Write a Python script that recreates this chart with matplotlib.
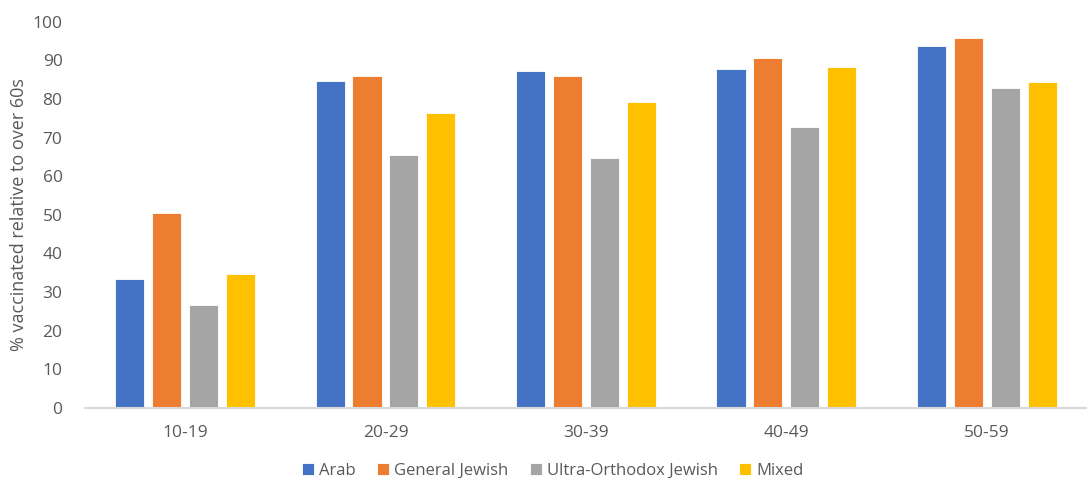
import numpy as np
import matplotlib.pyplot as plt

plt.rcParams['font.family'] = ['Open Sans', 'DejaVu Sans']

# share vaccinated in each age band, relative to the over-60s
age_groups = ["10-19", "20-29", "30-39", "40-49", "50-59"]
arab = [33.4, 84.5, 87.2, 87.6, 93.6]
general_jewish = [50.6, 86.0, 85.8, 90.5, 95.8]
ultra_orthodox = [26.7, 65.4, 64.8, 72.6, 82.7]
mixed = [34.7, 76.4, 79.3, 88.3, 84.3]

series = [
    ("Arab", arab, "#4472C4"),
    ("General Jewish", general_jewish, "#ED7D31"),
    ("Ultra-Orthodox Jewish", ultra_orthodox, "#A5A5A5"),
    ("Mixed", mixed, "#FFC000"),
]

text_color = "#595959"

fig = plt.figure(figsize=(10.87, 4.79), dpi=100)
ax = fig.add_axes([0.078, 0.148, 0.922, 0.807])

x = np.arange(len(age_groups))
pitch = 0.184
width = 0.145
for i, (name, vals, color) in enumerate(series):
    offset = (i - 1.5) * pitch
    ax.bar(x + offset, vals, width, color=color, label=name,
           edgecolor="white", linewidth=0.6)

ax.set_xlim(-0.5, len(age_groups) - 0.5)
ax.set_ylim(0, 100)
ax.set_yticks(range(0, 101, 10))
ax.set_xticks(x)
ax.set_xticklabels(age_groups)

for side in ["top", "right", "left"]:
    ax.spines[side].set_visible(False)
ax.spines["bottom"].set_color("#D9D9D9")
ax.spines["bottom"].set_linewidth(1.5)

ax.tick_params(axis="both", length=0, labelsize=12.5, colors=text_color)
ax.tick_params(axis="y", pad=16)
ax.tick_params(axis="x", pad=12)

ax.set_ylabel("% vaccinated relative to over 60s", fontsize=13,
              color=text_color, labelpad=3)

ax.legend(loc="center", bbox_to_anchor=(0.467, -0.162), ncol=4,
          frameon=False, fontsize=12, labelcolor=text_color,
          handlelength=0.7, handleheight=0.7, handletextpad=0.3,
          columnspacing=1.3, borderaxespad=0, borderpad=0)

fig.savefig("out.png", dpi=100, facecolor="white")
